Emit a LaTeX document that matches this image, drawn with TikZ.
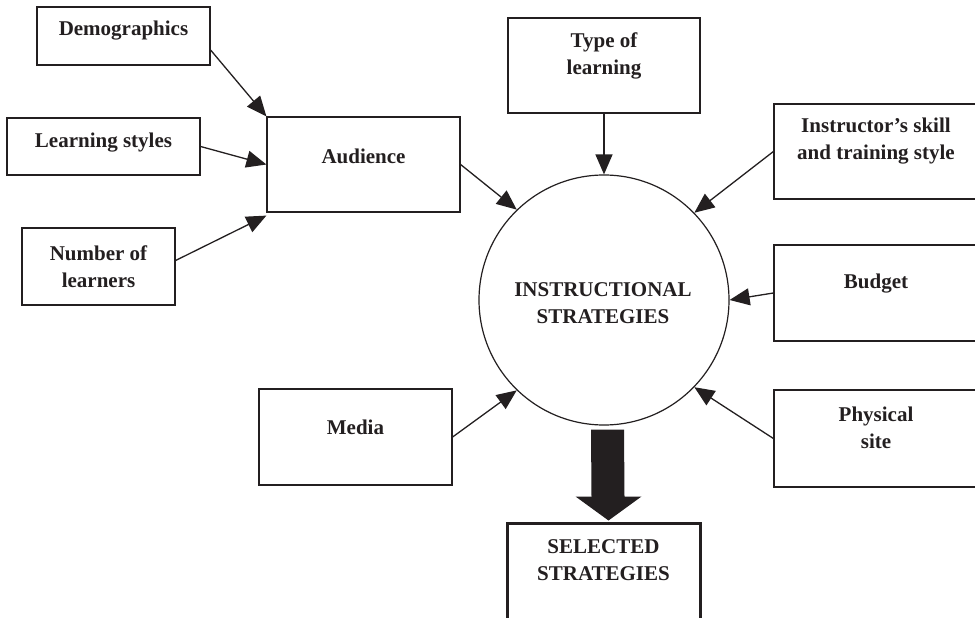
\documentclass[tikz,border=0pt]{standalone}
\usepackage{fontspec}
\setmainfont{Liberation Serif}
\usetikzlibrary{arrows.meta,calc}
\definecolor{ink}{RGB}{35,31,32}
\begin{document}
\begin{tikzpicture}[x=1pt,y=-1pt,
  box/.style={draw=ink, line width=1.2pt, rectangle, inner sep=0pt},
  selbox/.style={draw=ink, line width=3pt, rectangle, inner sep=0pt},
  lbl/.style={text=ink, font=\fontsize{21}{27}\selectfont\bfseries, align=center, inner sep=0pt},
  arr/.style={draw=ink, line width=1.3pt, -{Triangle[length=20pt,width=17pt]}}]
\clip (0,0) rectangle (975,618);
\fill[white] (0,0) rectangle (975,618);
% boxes
\node[box, minimum width=173pt, minimum height=58pt] (demo) at (123.5,36) {};
\node[box, minimum width=193pt, minimum height=57pt] (ls) at (103.5,146.5) {};
\node[box, minimum width=153pt, minimum height=77pt] (num) at (98.5,266.5) {};
\node[box, minimum width=193pt, minimum height=95pt] (aud) at (363.5,164.5) {};
\node[box, minimum width=192pt, minimum height=95pt] (typ) at (604,65.5) {};
\node[box, minimum width=204pt, minimum height=95pt] (inst) at (876,151.5) {};
\node[box, minimum width=204pt, minimum height=96pt] (bud) at (876,293) {};
\node[box, minimum width=204pt, minimum height=97pt] (phys) at (876,438.5) {};
\node[box, minimum width=193pt, minimum height=96pt] (media) at (355.5,437) {};
\node[selbox, minimum width=193pt, minimum height=104pt] (sel) at (603.5,575) {};
\node[draw=ink, line width=1.2pt, circle, minimum size=250pt, inner sep=0pt] (circ) at (604,300) {};
% labels
\node[lbl] (demoT) at ($(demo.center)+(0,-5)$) {Demographics};
\node[lbl] (lsT) at ($(ls.center)+(0,-4)$) {Learning styles};
\node[lbl] (numT) at ($(num.center)+(0,0)$) {Number of\\learners};
\node[lbl] (audT) at ($(aud.center)+(0,-8)$) {Audience};
\node[lbl] (typT) at ($(typ.center)+(0,-10)$) {Type of\\learning};
\node[lbl] (instT) at ($(inst.center)+(0,-10)$) {Instructor’s skill\\and training style};
\node[lbl] (budT) at ($(bud.center)+(0,-9)$) {Budget};
\node[lbl] (physT) at ($(phys.center)+(0,-11)$) {Physical\\site};
\node[lbl] (mediaT) at ($(media.center)+(0,-10)$) {Media};
\node[lbl] (selT) at ($(sel.north)+(0,38.5)$) {SELECTED\\STRATEGIES};
\node[lbl] (circT) at ($(circ.center)+(-1,3)$) {INSTRUCTIONAL\\STRATEGIES};
% connectors
\draw[arr] ($(demo.east)+(0,14)$) -- (aud.north west);
\draw[arr] (ls.east) -- (aud.west);
\draw[arr] ($(num.east)+(0,-6)$) -- ($(aud.south west)+(0,3)$);
\draw[arr] (aud.east) -- (circ.134.5);
\draw[arr] (typ.south) -- (typ.south |- circ.north);
\draw[arr] (inst.west) -- (circ.44.5);
\draw[arr] (bud.west) -- (circ.east);
\draw[arr] (phys.west) -- (circ.-44.5);
\draw[arr] (media.east) -- (circ.-134);
% thick arrow
\fill[ink] ($(circ.south)+(-13,4)$) -- ($(circ.south)+(20,4)$)
  -- ($(sel.north)+(21,-25)$) -- ($(sel.north)+(38,-25)$)
  -- ($(sel.north)+(5,-1)$)
  -- ($(sel.north)+(-28,-25)$) -- ($(sel.north)+(-12,-25)$) -- cycle;
\end{tikzpicture}
\end{document}
